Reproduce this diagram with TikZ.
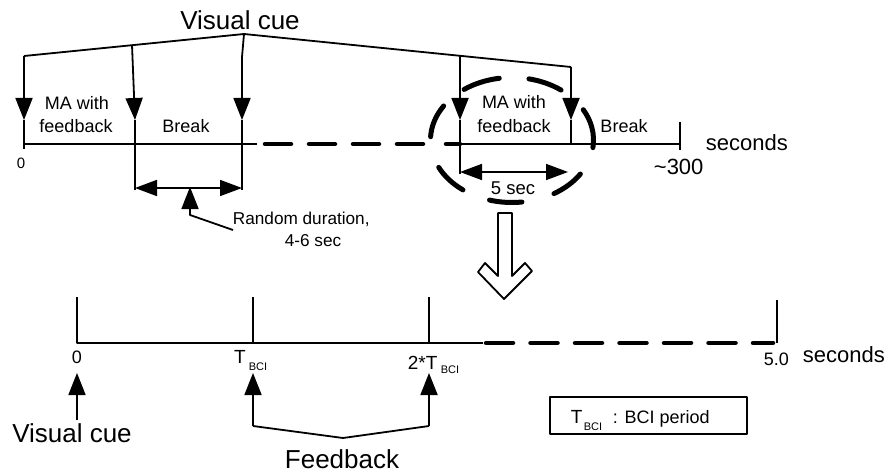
\documentclass[tikz,border=0pt]{standalone}
\usepackage{fontspec}
\setmainfont{Liberation Sans}
\usetikzlibrary{arrows.meta}
\begin{document}
\begin{tikzpicture}[x=1pt,y=-1pt, line width=1.8pt, line join=round,
  tip/.style={-{Triangle[length=22pt,width=17pt]}},
  dtip/.style={{Triangle[length=22pt,width=16pt]}-{Triangle[length=22pt,width=16pt]}},
  lbl/.style={inner sep=0pt, anchor=base, font=\fontsize{18}{20}\selectfont},
  lblw/.style={inner sep=0pt, anchor=base west, font=\fontsize{18}{20}\selectfont},
  big/.style={inner sep=0pt, anchor=base, font=\fontsize{26}{28}\selectfont},
  mid/.style={inner sep=0pt, anchor=base west, font=\fontsize{22}{24}\selectfont},
  sub/.style={inner sep=0pt, anchor=base west, font=\fontsize{11}{12}\selectfont},
  thickdash/.style={line width=4.5pt, line cap=round, dash pattern=on 26pt off 18pt},
  ellip/.style={line width=5pt, line cap=round},
]
\useasboundingbox (0,0) rectangle (885,473);

% ---------- upper timeline ----------
\coordinate (apex) at (244,34);
\coordinate (cL) at (24,56);
\coordinate (c2) at (132,45);
\coordinate (c3) at (242,57);
\coordinate (c4) at (460,56);
\coordinate (cR) at (571,67);
\coordinate (a1) at (24,120);
\coordinate (a2) at (135,120);
\coordinate (a3) at (242,120);
\coordinate (a4) at (460,120);
\coordinate (a5) at (571,120);
\coordinate (b1) at (24,149);
\coordinate (b2) at (135,190);
\coordinate (b3) at (242,190);
\coordinate (b4) at (460,174);
\coordinate (b5) at (571,144);
\coordinate (t0) at (24,144);
\coordinate (t1) at (257,144);
\coordinate (d0) at (265,144);
\coordinate (d1) at (430,144);
\coordinate (e0) at (446,144);
\coordinate (e1) at (460,144);
\coordinate (tE) at (680,144);
\coordinate (k0) at (680,122);
\coordinate (k1) at (680,150);

\node[big] (vc1) at (240,30) {Visual cue};

\draw (cL) -- (apex) -- (cR);
\draw (apex) -- (c3);
\draw[tip] (cL) -- (a1);
\draw[tip] (c2) -- (a2);
\draw[tip] (c3) -- (a3);
\draw[tip] (c4) -- (a4);
\draw[tip] (cR) -- (a5);
\draw (a1) -- (b1);
\draw (a2) -- (b2);
\draw (a3) -- (b3);
\draw (a4) -- (b4);
\draw (a5) -- (b5);

\draw (t0) -- (t1);
\draw[thickdash] (d0) -- (d1);
\draw[line width=4.5pt, line cap=round] (e0) -- (e1);
\draw (e1) -- (tE);
\draw (k0) -- (k1);

\node[lbl] (ma1) at (77,110) {MA with};
\node[lbl] (fb1) at (76,133) {feedback};
\node[lbl] (br1) at (186,133) {Break};
\node[lbl] (ma2) at (514,109) {MA with};
\node[lbl] (fb2) at (514,133) {feedback};
\node[lbl] (br2) at (624,133) {Break};
\node[inner sep=0pt, anchor=base, font=\fontsize{15}{17}\selectfont] (z1) at (21,168) {0};
\node[mid] (sec1) at (705,150) {seconds};
\node[mid] (t300) at (653,175) {\char`\~300};

% break duration
\coordinate (r0) at (135,188);
\coordinate (r1) at (242,188);
\draw[dtip] (r0) -- (r1);
\coordinate (p0) at (190,187);
\coordinate (p1) at (190,215);
\coordinate (p2) at (233,230);
\draw[tip] (p2) -- (p1) -- (p0);
\node[inner sep=0pt, anchor=base west, font=\fontsize{17.2}{19}\selectfont] (rd) at (232,224) {Random duration,};
\node[inner sep=0pt, anchor=base, font=\fontsize{17.2}{19}\selectfont] (rd2) at (313,246) {4-6 sec};

% 5 sec
\coordinate (f0) at (460,172);
\coordinate (f1) at (568,172);
\draw[dtip] (f0) -- (f1);
\node[inner sep=0pt, anchor=base west, font=\fontsize{18.5}{20}\selectfont] (fs) at (490,194) {5 sec};

% dashed ellipse, drawn as separate arcs
\coordinate (ec) at (512,140);
\foreach \sa/\ea in {99/126, 53/78, -7/29, -59/-33, -106/-83, -154/-127, 147/177}
  \draw[ellip] (ec) ++(\sa:81.5pt and 62.5pt)
    arc[start angle=\sa, end angle=\ea, x radius=81.5pt, y radius=62.5pt];

% hollow arrow
\draw[fill=white] (498,213) -- (498,276) -- (485,263) -- (478,272) -- (504,299)
  -- (532,271) -- (525,263) -- (512,276) -- (512,213) -- cycle;

% ---------- lower timeline ----------
\coordinate (L0) at (77,343);
\coordinate (L1) at (483,343);
\coordinate (L2) at (773,343);
\coordinate (T0) at (77,297);
\coordinate (T1a) at (253,297);
\coordinate (T1) at (253,343);
\coordinate (T2a) at (429,297);
\coordinate (T2) at (429,343);
\coordinate (T3a) at (777,300);
\coordinate (T3) at (777,343);
\draw (T0) -- (L0) -- (L1);
\draw (T1a) -- (T1);
\draw (T2a) -- (T2);
\draw (T3a) -- (T3);
\draw[line width=4.5pt, line cap=round, dash pattern=on 27pt off 17.5pt] (486,343) -- (L2);

\node[lbl] (z2) at (77,363) {0};
\node[inner sep=0pt, anchor=base, font=\fontsize{19}{20}\selectfont] (tb) at (240,363) {T};
\node[sub] (tbs) at (248,370) {BCI};
\node[inner sep=0pt, anchor=base west, font=\fontsize{19}{20}\selectfont] (tb2) at (407,369) {2*T};
\node[sub] (tb2s) at (440,373) {BCI};
\node[lblw] (five) at (763,365) {5.0};
\node[mid] (sec2) at (802,362) {seconds};

% visual cue arrow
\coordinate (v0) at (77,420);
\coordinate (v1) at (77,373);
\draw[tip] (v0) -- (v1);
\node[big] (vc2) at (72,442) {Visual cue};

% feedback arrows
\coordinate (g1) at (253,426);
\coordinate (g2) at (429,426);
\coordinate (gm) at (343,438);
\coordinate (h1) at (253,373);
\coordinate (h2) at (429,373);
\draw (g1) -- (gm) -- (g2);
\draw[tip] (g1) -- (h1);
\draw[tip] (g2) -- (h2);
\node[big] (fbk) at (342,468) {Feedback};

% legend box
\node[draw, line width=1.8pt, minimum width=197pt, minimum height=37pt, inner sep=0pt] (box) at (648.5,415.5) {};
\node[inner sep=0pt, anchor=base west, font=\fontsize{19}{20}\selectfont] (bt) at (570,423) {T};
\node[sub] (bts) at (583,430) {BCI};
\node[lblw] (btt) at (612,423) {: BCI period};
\end{tikzpicture}
\end{document}
